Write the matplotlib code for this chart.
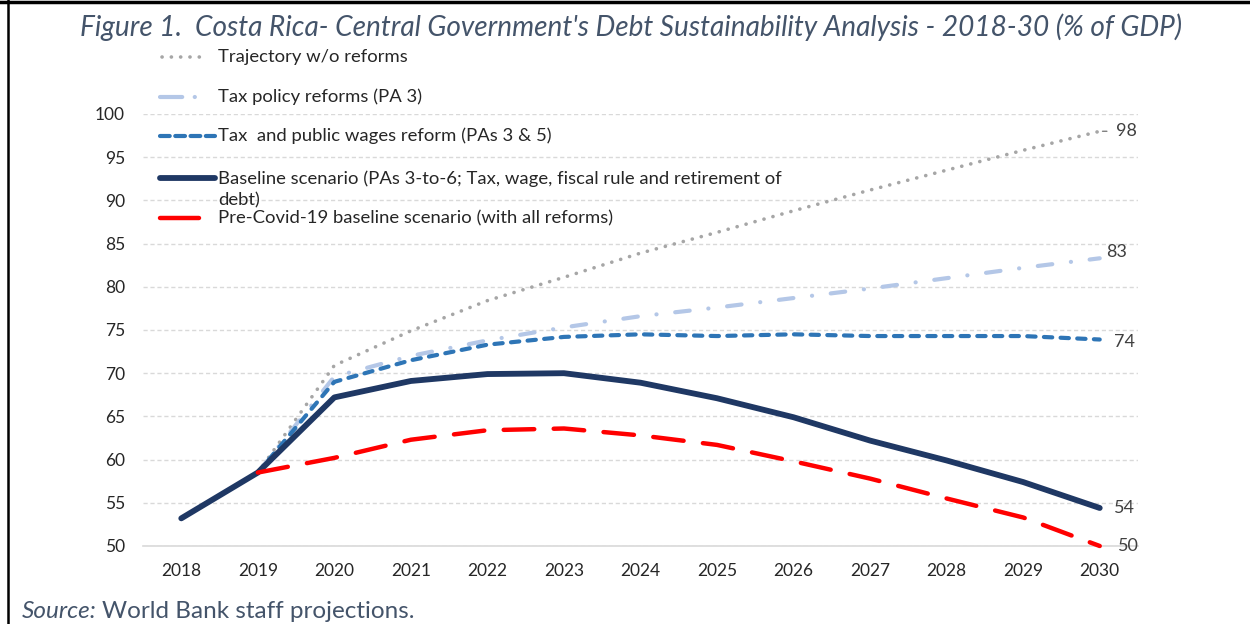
import numpy as np
import matplotlib
matplotlib.use("Agg")
import matplotlib.pyplot as plt
from matplotlib.lines import Line2D

plt.rcParams["font.family"] = ["Lato", "DejaVu Sans"]
plt.rcParams["lines.scale_dashes"] = False

years = [2018, 2019, 2020, 2021, 2022, 2023, 2024, 2025, 2026, 2027, 2028, 2029, 2030]
nan = np.nan
no_reforms = [nan, 58.5, 70.9, 74.9, 78.4, 81.1, 83.9, 86.3, 88.8, 91.2, 93.5, 95.8, 98.0]
tax_policy = [nan, 58.5, 69.6, 72.0, 73.8, 75.3, 76.6, 77.6, 78.7, 79.8, 81.0, 82.2, 83.3]
tax_wages = [nan, 58.5, 69.0, 71.5, 73.3, 74.2, 74.5, 74.3, 74.5, 74.3, 74.3, 74.3, 73.9]
baseline = [53.2, 58.5, 67.2, 69.1, 69.9, 70.0, 68.9, 67.1, 64.9, 62.2, 59.9, 57.4, 54.4]
pre_covid = [nan, 58.5, 60.2, 62.3, 63.4, 63.6, 62.8, 61.7, 59.8, 57.8, 55.5, 53.3, 50.0]

labels = [
    "Trajectory w/o reforms",
    "Tax policy reforms (PA 3)",
    "Tax  and public wages reform (PAs 3 & 5)",
    "Baseline scenario (PAs 3-to-6; Tax, wage, fiscal rule and retirement of\ndebt)",
    "Pre-Covid-19 baseline scenario (with all reforms)",
]
end_labels = ["98", "83", "74", "54", "50"]
yticks = [50, 55, 60, 65, 70, 75, 80, 85, 90, 95, 100]

styles = [
    dict(color="#a6a6a6", lw=2.6, dashes=(0.1, 6.6), dash_capstyle="round"),
    dict(color="#b4c7e7", lw=3.0, dashes=(10.5, 13.5, 0.1, 13.5), dash_capstyle="round"),
    dict(color="#2e75b6", lw=3.0, dashes=(6.0, 6.0), dash_capstyle="round"),
    dict(color="#1f3864", lw=4.2, solid_capstyle="round", solid_joinstyle="round"),
    dict(color="#ff0000", lw=3.2, dashes=(22.0, 14.0), dash_capstyle="round"),
]
series = [no_reforms, tax_policy, tax_wages, baseline, pre_covid]

fig = plt.figure(figsize=(12.5, 6.24), dpi=100)
W, H = 1250, 624
ax = fig.add_axes([143 / W, 1 - 546 / H, 995 / W, 432 / H])

for vals, st in zip(series, styles):
    ax.plot(years, vals, clip_on=False, zorder=3, **st)

ax.set_xlim(2017.5, 2030.5)
ax.set_ylim(50, 100)
ax.set_yticks(yticks)
ax.set_xticks(years)
ax.tick_params(length=0, labelsize=12.5, colors="#262626")
ax.tick_params(axis="x", pad=12)
ax.tick_params(axis="y", pad=13)
for s in ["top", "right", "left"]:
    ax.spines[s].set_visible(False)
ax.spines["bottom"].set_color("#d9d9d9")
ax.spines["bottom"].set_linewidth(1.2)
ax.yaxis.grid(True, color="#d9d9d9", lw=1.0, dashes=(3, 2))
ax.set_axisbelow(True)

# value labels at the last year
offsets = [(16, 0), (6, 6), (14, -2), (14, 0), (18, 0)]
for vals, txt, (dx, dy) in zip(series, end_labels, offsets):
    ax.annotate(txt, (years[-1], vals[-1]), xytext=(dx, dy), textcoords="offset pixels",
                ha="left", va="center", fontsize=13, color="#404040", annotation_clip=False)
ax.annotate("", (years[-1], no_reforms[-1]), xytext=(years[-1] + 0.13, no_reforms[-1]),
            arrowprops=dict(arrowstyle="-", color="#7f7f7f", lw=1.0), annotation_clip=False)

# overlay in pixel coordinates for legend, title, source and frame
ov = fig.add_axes([0, 0, 1, 1], facecolor="none")
ov.set_xlim(0, W)
ov.set_ylim(H, 0)
ov.axis("off")

leg_y = [57, 97, 136, 178, 218]
leg_x = [(162, 208), (160, 200), (160, 215), (160, 215), (160, 199)]
leg_styles = [
    dict(color="#a6a6a6", lw=2.6, dashes=(0.1, 6.6), dash_capstyle="round"),
    dict(color="#b4c7e7", lw=3.0, dashes=(16.0, 9.0, 0.1, 20.0), dash_capstyle="round"),
    dict(color="#2e75b6", lw=3.0, dashes=(7.0, 4.0), dash_capstyle="round"),
    dict(color="#1f3864", lw=4.2, solid_capstyle="round"),
    dict(color="#ff0000", lw=3.2, solid_capstyle="round"),
]
for y, (x0, x1), st, lab in zip(leg_y, leg_x, leg_styles, labels):
    ov.add_line(Line2D([x0, x1], [y, y], **st))
    if "\n" in lab:
        ov.text(218, y - 8, lab, ha="left", va="top", fontsize=13.3, color="#262626", linespacing=1.45)
    else:
        ov.text(218, y, lab, ha="left", va="center", fontsize=13.3, color="#262626")

ov.text(631, 27, "Figure 1.  Costa Rica- Central Government's Debt Sustainability Analysis - 2018-30 (% of GDP)",
        ha="center", va="center", fontsize=20.2, style="italic", color="#44546a")

src1 = ov.text(22, 611, "Source:", ha="left", va="center", fontsize=17.5, style="italic", color="#44546a")
fig.canvas.draw()
bb = src1.get_window_extent()
ov.text(bb.x1 + 5, 611, "World Bank staff projections.", ha="left", va="center", fontsize=17.5, color="#44546a")

ov.add_line(Line2D([0, W], [1.5, 1.5], color="black", lw=2.5))
ov.add_line(Line2D([8, 8], [0, H], color="black", lw=1.8))

fig.savefig("out.png", dpi=100)
